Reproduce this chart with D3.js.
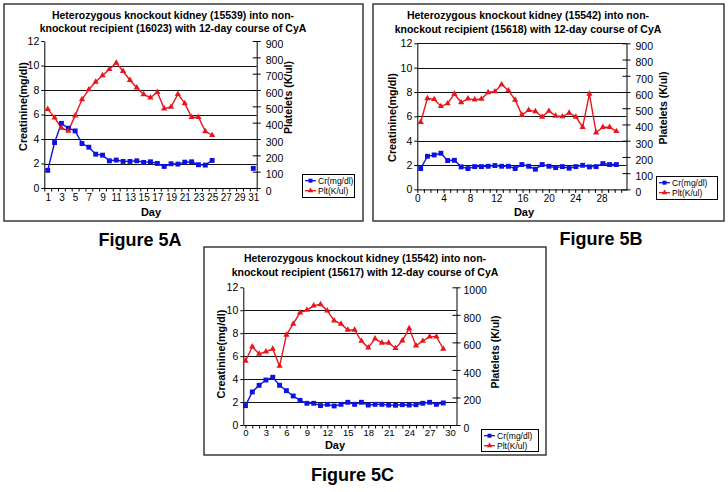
<!DOCTYPE html>
<html><head><meta charset="utf-8">
<script src="https://cdn.jsdelivr.net/npm/d3@7"></script>
<style>
body{margin:0;background:#fff}
svg{display:block}
text{font-family:"Liberation Sans",Arial,Helvetica,sans-serif;fill:#000}
</style>
</head><body>
<script>
// ---------------- DATA ----------------
const daysA = [1,2,3,4,5,6,7,8,9,10,11,12,13,14,15,16,17,18,19,20,21,22,23,24,25,26,27,28,29,30,31];
const crA  = [1.44,3.71,5.28,4.88,4.66,3.63,3.33,2.76,2.68,2.22,2.28,2.17,2.17,2.22,2.09,2.14,2.0,1.76,1.98,1.95,2.11,2.14,1.9,1.87,2.25,null,null,null,null,null,1.6];
const pltA = [483,431,368,349,443,542,603,650,689,727,766,715,660,614,573,553,587,486,496,575,518,433,433,347,323,null,null,null,null,null,null];

const daysB = [0,1,2,3,4,5,6,7,8,9,10,11,12,13,14,15,16,17,18,19,20,21,22,23,24,25,26,27,28,29];
const crB  = [1.71,2.72,2.83,2.97,2.37,2.39,1.85,1.71,1.87,1.87,1.90,1.96,1.90,1.90,1.71,2.04,1.90,1.66,2.04,1.90,1.79,1.87,1.74,1.87,1.98,1.85,1.87,2.12,2.04,2.04];
const pltB = [414,561,555,512,529,588,535,559,553,557,598,603,646,609,551,459,488,481,447,483,453,449,471,447,383,588,350,383,383,358];

const daysC = [0,1,2,3,4,5,6,7,8,9,10,11,12,13,14,15,16,17,18,19,20,21,22,23,24,25,26,27,28,29];
const crC  = [1.69,2.88,3.46,3.92,4.16,3.46,2.99,2.53,2.15,1.89,1.89,1.69,1.80,1.66,1.80,1.98,1.80,1.98,1.74,1.80,1.80,1.74,1.72,1.77,1.74,1.77,1.89,1.98,1.80,1.92];
const pltC = [465,569,516,533,552,428,654,734,816,835,867,876,830,758,734,690,690,610,562,627,596,596,557,613,702,576,610,642,642,552];

const xLabelsA = [1,3,5,7,9,11,13,15,17,19,21,23,25,27,29,31];
const xLabelsB = [0,4,8,12,16,20,24,28];
const xLabelsC = [0,3,6,9,12,15,18,21,24,27,30];
const crTicks = [0,2,4,6,8,10,12];
const pltTicksAB = [0,100,200,300,400,500,600,700,800,900];
const pltTicksC = [0,200,400,600,800,1000];

const titleA = ["Heterozygous knockout kidney (15539) into non-","knockout recipient (16023) with 12-day course of CyA"];
const titleB = ["Heterozygous knockout kidney (15542) into non-","knockout recipient (15618) with 12-day course of CyA"];
const titleC = ["Heterozygous knockout kidney (15542) into non-","knockout recipient (15617) with 12-day course of CyA"];
const legendLabels = ["Cr(mg/dl)","Plt(K/ul)"];
const yLeftTitle = "Creatinine(mg/dl)";
const yRightTitle = "Platelets (K/ul)";
const xTitle = "Day";
const figureLabels = ["Figure 5A","Figure 5B","Figure 5C"];

// ---------------- STYLE ----------------
const BLUE = "#0d12e0", RED = "#e8161c";

const svg = d3.select("body").append("svg").attr("width",728).attr("height",492);
svg.append("rect").attr("width",728).attr("height",492).attr("fill","#fff");

function drawPanel(c){
  const g = svg.append("g");
  g.append("rect").attr("x",c.box[0]).attr("y",c.box[1])
    .attr("width",c.box[2]-c.box[0]).attr("height",c.box[3]-c.box[1])
    .attr("fill","#fff").attr("stroke","#3a3a3a").attr("stroke-width",1.5);

  const x  = d3.scaleLinear().domain(c.xDomain).range([c.l,c.r]);
  const xl = d3.scaleLinear().domain(c.xLabelDomain).range([c.l,c.r]);
  const yL = d3.scaleLinear().domain([0,12]).range([c.b,c.t]);
  const yR = d3.scaleLinear().domain([0,c.rMax]).range([c.b,c.t]);

  // gridlines
  const gv = crTicks.filter(v => v>0 && (v<12 || c.gridTop));
  g.append("g").selectAll("line").data(gv).join("line")
    .attr("x1",c.l).attr("x2",c.r)
    .attr("y1",d=>Math.round(yL(d))+0.5).attr("y2",d=>Math.round(yL(d))+0.5)
    .attr("stroke","#111").attr("stroke-width",1);

  // left axis
  const la = g.append("g").attr("transform",`translate(${c.l},0)`)
    .call(d3.axisLeft(yL).tickValues(crTicks).tickSizeInner(3).tickSizeOuter(0).tickPadding(2).tickFormat(d3.format("d")));
  la.selectAll("text").attr("font-size",10.5).style("font-family","Liberation Sans, Arial, sans-serif");
  la.select(".domain").attr("stroke","#000");

  // right axis
  const ra = g.append("g").attr("transform",`translate(${c.r},0)`)
    .call(d3.axisRight(yR).tickValues(c.rTicks).tickSizeInner(4).tickSizeOuter(0).tickPadding(c.rPad).tickFormat(d3.format("d")));
  ra.selectAll(".tick line").attr("x1",-4).attr("stroke","#000");
  ra.selectAll("text").attr("font-size",10.5).attr("dy","0.6em").style("font-family","Liberation Sans, Arial, sans-serif");
  ra.select(".domain").attr("stroke","#000");

  // bottom axis: minor ticks
  const bt = g.append("g").attr("transform",`translate(0,${c.b})`)
    .call(d3.axisBottom(xl).tickValues(c.minorTicks).tickSizeInner(3.5).tickSizeOuter(0).tickFormat(""));
  bt.select(".domain").attr("stroke","#000");
  // bottom axis: labels
  const bl = g.append("g").attr("transform",`translate(0,${c.b})`)
    .call(d3.axisBottom(xl).tickValues(c.xLabels).tickSize(0).tickPadding(c.xPad).tickFormat(d3.format("d")));
  bl.select(".domain").remove();
  bl.selectAll("text").attr("font-size",c.xFont).style("font-family","Liberation Sans, Arial, sans-serif");

  // series
  const crData  = c.days.map((d,i)=>({d, v:c.cr[i]}));
  const pltData = c.days.map((d,i)=>({d, v:c.plt[i]}));
  const lineL = d3.line().defined(p=>p.v!=null).x(p=>x(p.d)).y(p=>yL(p.v));
  const lineR = d3.line().defined(p=>p.v!=null).x(p=>x(p.d)).y(p=>yR(p.v));
  g.append("path").attr("d",lineL(crData)).attr("fill","none").attr("stroke",BLUE).attr("stroke-width",1.4);
  g.append("path").attr("d",lineR(pltData)).attr("fill","none").attr("stroke",RED).attr("stroke-width",1.4);
  const sq = d3.symbol().type(d3.symbolSquare).size(24);
  const tr = d3.symbol().type(d3.symbolTriangle).size(17);
  g.append("g").selectAll("path").data(crData.filter(p=>p.v!=null)).join("path")
    .attr("d",sq).attr("transform",p=>`translate(${x(p.d)},${yL(p.v)})`).attr("fill",BLUE);
  g.append("g").selectAll("path").data(pltData.filter(p=>p.v!=null)).join("path")
    .attr("d",tr).attr("transform",p=>`translate(${x(p.d)},${yR(p.v)})`).attr("fill",RED);

  // titles
  c.title.forEach((t,i)=>{
    g.append("text").attr("x",c.titleX).attr("y",c.titleY[i]).attr("text-anchor","middle")
      .attr("font-size",10.5).attr("font-weight","bold").text(t);
  });
  g.append("text").attr("transform",`translate(${c.yLT[0]},${c.yLT[1]}) rotate(-90)`)
    .attr("text-anchor","middle").attr("dominant-baseline","central")
    .attr("font-size",10.8).attr("font-weight","bold").text(yLeftTitle);
  g.append("text").attr("transform",`translate(${c.yRT[0]},${c.yRT[1]}) rotate(-90)`)
    .attr("text-anchor","middle").attr("dominant-baseline","central")
    .attr("font-size",10.5).attr("font-weight","bold").text(yRightTitle);
  g.append("text").attr("x",c.dayPos[0]).attr("y",c.dayPos[1]).attr("text-anchor","middle")
    .attr("font-size",11).attr("font-weight","bold").text(xTitle);

  // legend
  const [lx,ly,lw,lh] = c.legend;
  const lg = g.append("g");
  lg.append("rect").attr("x",lx+0.5).attr("y",ly+0.5).attr("width",lw).attr("height",lh)
    .attr("fill","#fff").attr("stroke","#000").attr("stroke-width",1);
  [[BLUE,sq],[RED,tr]].forEach(([col,sym],i)=>{
    const yy = ly + 6.7 + i*10;
    lg.append("line").attr("x1",lx+3).attr("x2",lx+14).attr("y1",yy).attr("y2",yy).attr("stroke",col).attr("stroke-width",1.3);
    lg.append("path").attr("d",i===0?d3.symbol().type(d3.symbolSquare).size(16)():d3.symbol().type(d3.symbolTriangle).size(13)())
      .attr("transform",`translate(${lx+8.5},${yy})`).attr("fill",col);
    lg.append("text").attr("x",lx+16).attr("y",yy).attr("dominant-baseline","central")
      .attr("font-size",8.5).text(legendLabels[i]);
  });

  // figure label
  svg.append("text").attr("x",c.fig[0]).attr("y",c.fig[1]).attr("text-anchor","middle")
    .attr("font-size",18).attr("font-weight","bold").text(c.figLabel);
}

drawPanel({
  box:[4,4,363,221], l:44.3, r:256.7, t:41, b:188,
  xDomain:[0.5,31.5], xLabelDomain:[0.5,31.5],
  minorTicks:[0.5,1.5,2.5,3.5,4.5,5.5,6.5,7.5,8.5,9.5,10.5,11.5,12.5,13.5,14.5,15.5,16.5,17.5,18.5,19.5,20.5,21.5,22.5,23.5,24.5,25.5,26.5,27.5,28.5,29.5,30.5,31.5],
  xLabels:xLabelsA, xPad:5.5, xFont:10, days:daysA, cr:crA, plt:pltA,
  rMax:900, rTicks:pltTicksAB, rPad:5, gridTop:false,
  title:titleA, titleX:173, titleY:[19.4,32],
  yLT:[23.3,106.5], yRT:[288.3,97.5], dayPos:[151,216],
  legend:[302,174,52,23], fig:[140,246], figLabel:figureLabels[0]
});

drawPanel({
  box:[373,4,724,221], l:417.3, r:626.5, t:43.3, b:189.4,
  xDomain:[-0.5,30.5], xLabelDomain:[0,31.8],
  minorTicks:[0,1,2,3,4,5,6,7,8,9,10,11,12,13,14,15,16,17,18,19,20,21,22,23,24,25,26,27,28,29,30,31],
  xLabels:xLabelsB, xPad:5.5, xFont:10, days:daysB, cr:crB, plt:pltB,
  rMax:900, rTicks:pltTicksAB, rPad:5, gridTop:true,
  title:titleB, titleX:528, titleY:[19.4,33],
  yLT:[391.7,117.5], yRT:[662.7,108], dayPos:[524,215.5],
  legend:[656,176,61,23], fig:[601,244.5], figLabel:figureLabels[1]
});

drawPanel({
  box:[204,247,546,455], l:243.3, r:456.5, t:287.3, b:425,
  xDomain:[-0.32,30.94], xLabelDomain:[-0.32,30.94],
  minorTicks:[0,1,2,3,4,5,6,7,8,9,10,11,12,13,14,15,16,17,18,19,20,21,22,23,24,25,26,27,28,29,30],
  xLabels:xLabelsC, xPad:4.5, xFont:9.5, days:daysC, cr:crC, plt:pltC,
  rMax:1000, rTicks:pltTicksC, rPad:3, gridTop:false,
  title:titleC, titleX:365, titleY:[262,276.4],
  yLT:[220.7,354], yRT:[495,352], dayPos:[335,449],
  legend:[481,429,57,22], fig:[352.5,481], figLabel:figureLabels[2]
});
</script>
</body></html>
